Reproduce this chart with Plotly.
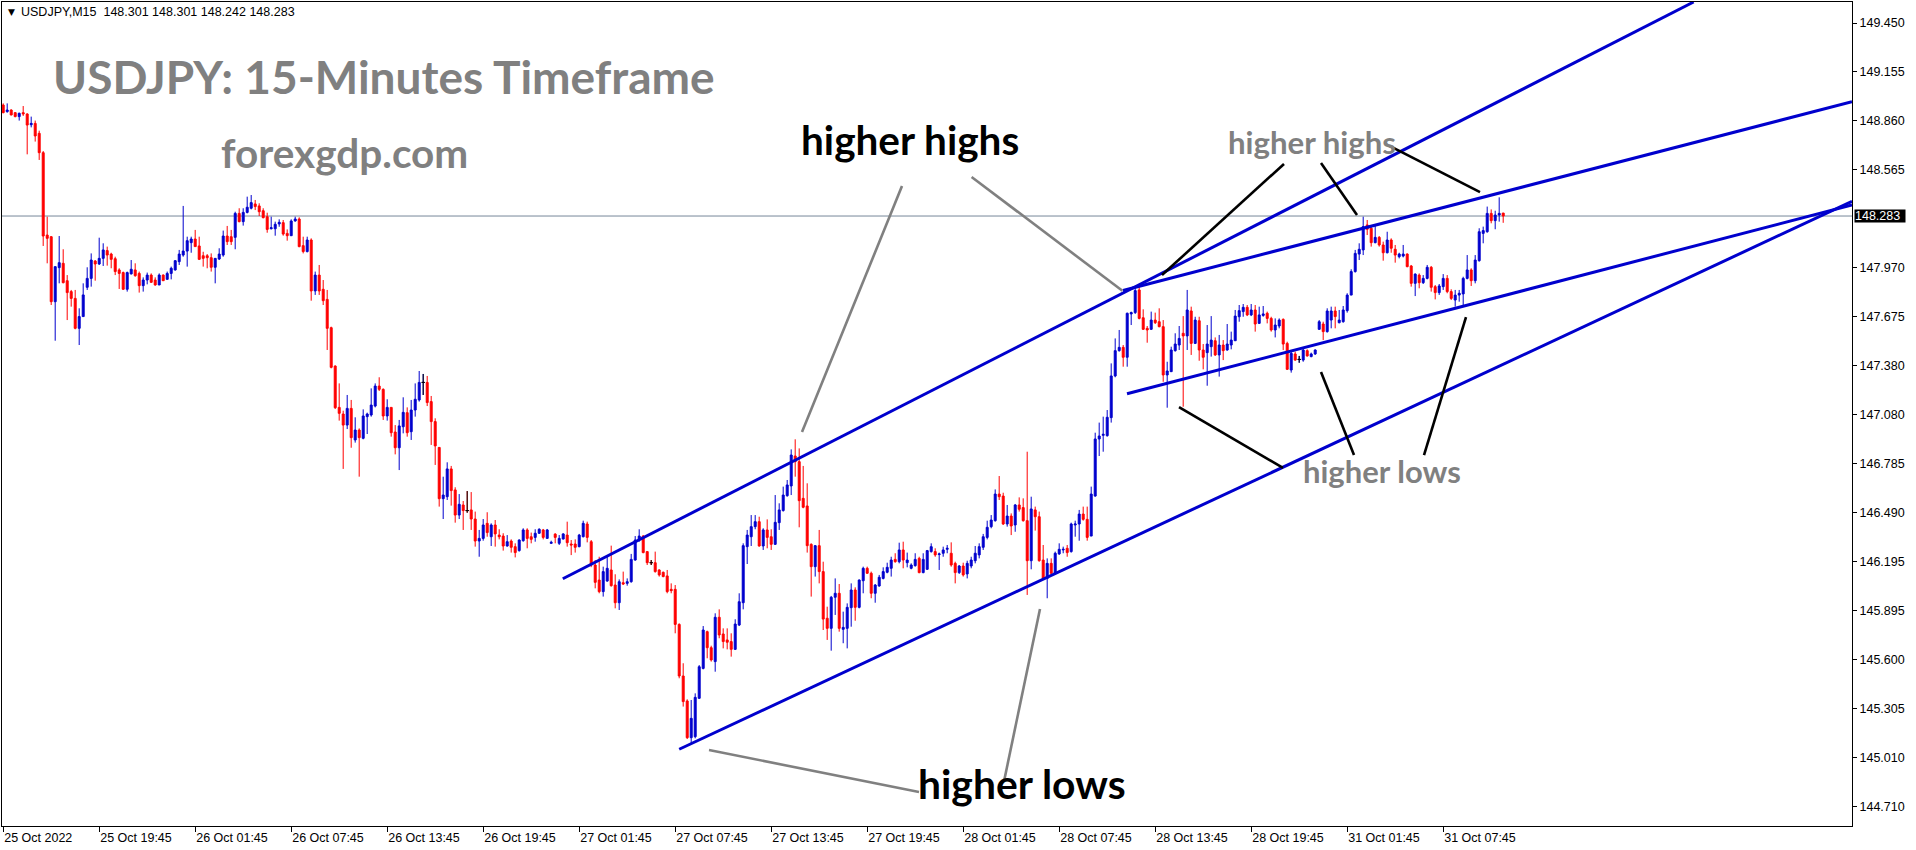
import plotly.graph_objects as go

# ---------------- data ----------------
tick_labels = ["25 Oct 2022", "25 Oct 19:45", "26 Oct 01:45", "26 Oct 07:45", "26 Oct 13:45",
               "26 Oct 19:45", "27 Oct 01:45", "27 Oct 07:45", "27 Oct 13:45", "27 Oct 19:45",
               "28 Oct 01:45", "28 Oct 07:45", "28 Oct 13:45", "28 Oct 19:45", "31 Oct 01:45",
               "31 Oct 07:45"]
tick_bars = [0, 24, 48, 72, 96, 120, 144, 168, 192, 216, 240, 264, 288, 312, 336, 360]

price_ticks = [149.450, 149.155, 148.860, 148.565, 147.970, 147.675, 147.380, 147.080,
               146.785, 146.490, 146.195, 145.895, 145.600, 145.305, 145.010, 144.710]

last_price = 148.283

opens = [
    148.954, 148.914, 148.924, 148.908, 148.884, 148.908, 148.900, 148.835, 148.843, 148.783,
    148.666, 148.168, 148.158, 147.765, 147.971, 147.997, 147.892, 147.826, 147.785, 147.604,
    147.675, 147.852, 147.906, 148.011, 147.993, 148.027, 148.074, 148.053, 148.025, 147.957,
    147.941, 147.840, 147.933, 147.957, 147.936, 147.862, 147.896, 147.926, 147.896, 147.866,
    147.926, 147.900, 147.936, 147.957, 148.007, 148.047, 148.071, 148.122, 148.144, 148.102,
    148.043, 148.043, 148.031, 147.973, 148.023, 148.047, 148.162, 148.158, 148.154, 148.299,
    148.249, 148.305, 148.330, 148.356, 148.344, 148.315, 148.279, 148.206, 148.206, 148.235,
    148.243, 148.178, 148.164, 148.253, 148.265, 148.104, 148.068, 148.138, 147.830, 147.926,
    147.840, 147.779, 147.608, 147.376, 147.126, 147.086, 147.019, 147.120, 146.929, 146.989,
    146.939, 147.070, 147.080, 147.134, 147.255, 147.235, 147.074, 147.126, 146.977, 146.882,
    147.009, 147.094, 146.979, 147.110, 147.171, 147.277, 147.277, 147.161, 147.040, 146.884,
    146.574, 146.586, 146.754, 146.627, 146.475, 146.536, 146.502, 146.506, 146.451, 146.318,
    146.334, 146.425, 146.344, 146.415, 146.354, 146.348, 146.288, 146.318, 146.284, 146.260,
    146.320, 146.385, 146.344, 146.340, 146.365, 146.385, 146.334, 146.304, 146.360, 146.304,
    146.330, 146.354, 146.300, 146.300, 146.284, 146.344, 146.421, 146.314, 146.173, 146.082,
    146.012, 146.076, 146.143, 146.052, 145.945, 146.066, 146.062, 146.072, 146.203, 146.328,
    146.348, 146.254, 146.187, 146.187, 146.143, 146.129, 146.107, 146.026, 146.026, 145.814,
    145.502, 145.351, 145.129, 145.135, 145.367, 145.548, 145.770, 145.673, 145.589, 145.857,
    145.756, 145.720, 145.710, 145.663, 145.810, 145.945, 146.284, 146.344, 146.405, 146.435,
    146.288, 146.385, 146.344, 146.298, 146.429, 146.502, 146.592, 146.651, 146.832, 146.798,
    146.576, 146.530, 146.298, 146.163, 146.290, 146.133, 145.851, 145.790, 145.978, 146.002,
    145.784, 145.790, 145.915, 146.022, 145.917, 146.078, 146.153, 146.123, 146.002, 146.046,
    146.092, 146.129, 146.153, 146.207, 146.193, 146.264, 146.187, 146.153, 146.169, 146.213,
    146.127, 146.147, 146.254, 146.254, 146.236, 146.244, 146.268, 146.244, 146.183, 146.127,
    146.167, 146.119, 146.167, 146.199, 146.234, 146.280, 146.340, 146.405, 146.441, 146.602,
    146.590, 146.421, 146.469, 146.415, 146.536, 146.520, 146.441, 146.199, 146.506, 146.465,
    146.203, 146.092, 146.183, 146.123, 146.240, 146.264, 146.274, 146.254, 146.415, 146.421,
    146.481, 146.449, 146.348, 146.590, 146.935, 146.957, 146.955, 147.064, 147.316, 147.469,
    147.489, 147.429, 147.691, 147.699, 147.836, 147.668, 147.604, 147.598, 147.654, 147.644,
    147.614, 147.322, 147.342, 147.469, 147.503, 147.574, 147.558, 147.709, 147.513, 147.650,
    147.473, 147.457, 147.493, 147.529, 147.443, 147.503, 147.473, 147.503, 147.529, 147.674,
    147.705, 147.731, 147.685, 147.715, 147.634, 147.682, 147.695, 147.664, 147.594, 147.618,
    147.658, 147.513, 147.352, 147.449, 147.416, 147.412, 147.469, 147.433, 147.449, 147.598,
    147.630, 147.584, 147.654, 147.709, 147.638, 147.644, 147.711, 147.805, 147.947, 148.053,
    148.078, 148.229, 148.209, 148.122, 148.154, 148.108, 148.061, 148.138, 148.082, 148.037,
    148.041, 148.053, 147.981, 147.876, 147.926, 147.880, 147.906, 147.973, 147.856, 147.820,
    147.856, 147.906, 147.826, 147.775, 147.805, 147.812, 147.906, 147.957, 147.892, 148.013,
    148.178, 148.188, 148.299, 148.255, 148.289, 148.301]

highs = [
    148.964, 148.964, 148.928, 148.912, 148.908, 148.948, 148.904, 148.884, 148.860, 148.799,
    148.676, 148.279, 148.162, 147.977, 148.162, 148.082, 147.926, 147.836, 147.836, 147.725,
    147.876, 147.973, 148.057, 148.017, 148.152, 148.118, 148.098, 148.061, 148.037, 147.967,
    147.947, 147.947, 148.017, 147.997, 147.947, 147.912, 147.941, 147.936, 147.912, 147.936,
    147.930, 147.947, 147.977, 148.017, 148.078, 148.344, 148.158, 148.158, 148.199, 148.158,
    148.067, 148.053, 148.057, 148.027, 148.088, 148.195, 148.223, 148.199, 148.309, 148.330,
    148.330, 148.400, 148.410, 148.380, 148.360, 148.330, 148.303, 148.279, 148.249, 148.263,
    148.259, 148.202, 148.263, 148.279, 148.275, 148.158, 148.158, 148.148, 147.947, 147.987,
    147.896, 147.836, 147.614, 147.380, 147.271, 147.106, 147.201, 147.171, 147.066, 146.999,
    147.114, 147.094, 147.241, 147.271, 147.308, 147.241, 147.175, 147.126, 147.019, 147.050,
    147.187, 147.126, 147.171, 147.271, 147.346, 147.328, 147.316, 147.195, 147.060, 146.884,
    146.707, 146.794, 146.772, 146.643, 146.602, 146.560, 146.620, 146.614, 146.496, 146.385,
    146.451, 146.492, 146.425, 146.445, 146.389, 146.365, 146.354, 146.328, 146.304, 146.328,
    146.395, 146.395, 146.369, 146.389, 146.395, 146.391, 146.391, 146.320, 146.365, 146.354,
    146.365, 146.435, 146.324, 146.328, 146.361, 146.441, 146.435, 146.324, 146.203, 146.223,
    146.163, 146.223, 146.290, 146.117, 146.086, 146.133, 146.092, 146.240, 146.348, 146.389,
    146.354, 146.254, 146.203, 146.254, 146.147, 146.133, 146.143, 146.062, 146.052, 145.820,
    145.579, 145.361, 145.357, 145.397, 145.568, 145.804, 145.776, 145.685, 145.881, 145.905,
    145.790, 145.790, 145.760, 145.845, 146.002, 146.304, 146.385, 146.475, 146.475, 146.465,
    146.395, 146.449, 146.389, 146.596, 146.546, 146.647, 146.687, 146.872, 146.933, 146.878,
    146.772, 146.667, 146.304, 146.294, 146.385, 146.193, 145.921, 145.986, 146.092, 146.058,
    145.891, 145.941, 146.062, 146.038, 146.086, 146.163, 146.163, 146.133, 146.058, 146.113,
    146.159, 146.187, 146.223, 146.244, 146.308, 146.314, 146.248, 146.183, 146.244, 146.223,
    146.244, 146.264, 146.304, 146.274, 146.248, 146.284, 146.294, 146.310, 146.193, 146.173,
    146.187, 146.199, 146.223, 146.288, 146.304, 146.361, 146.441, 146.475, 146.630, 146.711,
    146.610, 146.536, 146.485, 146.542, 146.582, 146.576, 146.858, 146.586, 146.526, 146.496,
    146.294, 146.213, 146.213, 146.254, 146.304, 146.284, 146.294, 146.429, 146.441, 146.506,
    146.526, 146.526, 146.647, 146.973, 147.034, 147.070, 147.110, 147.392, 147.543, 147.594,
    147.503, 147.699, 147.705, 147.856, 147.860, 147.719, 147.618, 147.705, 147.699, 147.725,
    147.654, 147.402, 147.493, 147.574, 147.618, 147.678, 147.836, 147.735, 147.674, 147.674,
    147.509, 147.624, 147.678, 147.549, 147.564, 147.533, 147.630, 147.584, 147.715, 147.745,
    147.751, 147.745, 147.751, 147.745, 147.735, 147.739, 147.705, 147.674, 147.664, 147.664,
    147.664, 147.523, 147.473, 147.463, 147.437, 147.489, 147.477, 147.457, 147.477, 147.654,
    147.644, 147.725, 147.735, 147.735, 147.715, 147.739, 147.816, 147.961, 148.078, 148.118,
    148.279, 148.259, 148.229, 148.229, 148.162, 148.128, 148.188, 148.148, 148.108, 148.061,
    148.108, 148.057, 147.987, 147.936, 147.936, 147.926, 147.987, 147.981, 147.866, 147.872,
    147.932, 147.926, 147.840, 147.836, 147.836, 147.916, 148.047, 147.967, 148.047, 148.209,
    148.219, 148.340, 148.323, 148.315, 148.396, 148.301]

lows = [
    148.904, 148.908, 148.892, 148.880, 148.860, 148.888, 148.656, 148.819, 148.733, 148.622,
    148.102, 147.997, 147.745, 147.529, 147.876, 147.876, 147.654, 147.735, 147.598, 147.503,
    147.675, 147.836, 147.856, 147.892, 147.987, 147.981, 147.983, 147.967, 147.926, 147.842,
    147.836, 147.826, 147.930, 147.916, 147.820, 147.826, 147.870, 147.880, 147.862, 147.866,
    147.890, 147.900, 147.900, 147.953, 147.987, 148.037, 147.977, 148.061, 148.098, 148.017,
    147.977, 147.967, 147.947, 147.876, 148.017, 148.037, 148.108, 148.108, 148.082, 148.245,
    148.225, 148.299, 148.323, 148.319, 148.283, 148.269, 148.182, 148.202, 148.164, 148.218,
    148.164, 148.134, 148.164, 148.249, 148.094, 148.057, 148.063, 147.771, 147.806, 147.806,
    147.745, 147.473, 147.362, 147.116, 147.046, 146.754, 146.995, 146.882, 146.913, 146.707,
    146.933, 146.965, 147.070, 147.126, 147.225, 147.050, 147.046, 146.949, 146.842, 146.747,
    146.969, 146.949, 146.929, 147.070, 147.161, 147.201, 147.134, 146.899, 146.778, 146.526,
    146.451, 146.566, 146.532, 146.429, 146.451, 146.385, 146.489, 146.385, 146.284, 146.223,
    146.320, 146.344, 146.288, 146.284, 146.328, 146.260, 146.284, 146.248, 146.219, 146.254,
    146.314, 146.274, 146.304, 146.314, 146.361, 146.328, 146.334, 146.300, 146.304, 146.294,
    146.328, 146.284, 146.233, 146.248, 146.280, 146.340, 146.310, 146.160, 146.032, 146.002,
    145.982, 146.072, 146.042, 145.911, 145.901, 146.052, 146.048, 146.066, 146.199, 146.314,
    146.244, 146.173, 146.173, 146.127, 146.103, 146.099, 146.002, 146.002, 145.760, 145.488,
    145.317, 145.121, 145.095, 145.125, 145.363, 145.542, 145.609, 145.589, 145.528, 145.730,
    145.669, 145.663, 145.619, 145.659, 145.804, 145.905, 146.179, 146.288, 146.389, 146.284,
    146.264, 146.274, 146.264, 146.294, 146.385, 146.496, 146.586, 146.596, 146.707, 146.401,
    146.516, 146.248, 145.982, 146.103, 146.062, 145.780, 145.720, 145.655, 145.871, 145.770,
    145.700, 145.669, 145.800, 145.836, 145.911, 146.002, 146.119, 145.972, 145.945, 146.042,
    146.086, 146.123, 146.103, 146.187, 146.183, 146.153, 146.159, 146.147, 146.163, 146.123,
    146.123, 146.143, 146.248, 146.223, 146.143, 146.223, 146.244, 146.163, 146.062, 146.119,
    146.103, 146.092, 146.153, 146.183, 146.213, 146.264, 146.328, 146.395, 146.435, 146.566,
    146.415, 146.405, 146.354, 146.374, 146.496, 146.435, 145.992, 146.147, 146.381, 146.193,
    146.082, 145.972, 146.119, 146.113, 146.234, 146.244, 146.223, 146.248, 146.344, 146.320,
    146.441, 146.320, 146.348, 146.586, 146.832, 146.858, 146.949, 147.034, 147.308, 147.463,
    147.372, 147.372, 147.624, 147.691, 147.658, 147.594, 147.517, 147.594, 147.630, 147.610,
    147.281, 147.124, 147.342, 147.463, 147.473, 147.130, 147.473, 147.443, 147.509, 147.408,
    147.356, 147.257, 147.433, 147.437, 147.312, 147.412, 147.469, 147.477, 147.529, 147.644,
    147.674, 147.678, 147.678, 147.584, 147.630, 147.674, 147.634, 147.584, 147.549, 147.604,
    147.473, 147.352, 147.336, 147.408, 147.396, 147.402, 147.433, 147.429, 147.443, 147.594,
    147.533, 147.578, 147.604, 147.604, 147.634, 147.638, 147.699, 147.805, 147.941, 148.017,
    148.047, 148.168, 148.098, 148.118, 148.098, 148.013, 148.057, 148.061, 148.001, 148.027,
    148.033, 147.973, 147.856, 147.799, 147.846, 147.872, 147.900, 147.826, 147.779, 147.806,
    147.836, 147.816, 147.775, 147.735, 147.765, 147.739, 147.900, 147.860, 147.876, 148.007,
    148.118, 148.182, 148.239, 148.203, 148.249, 148.242]

closes = [
    148.908, 148.924, 148.894, 148.884, 148.904, 148.900, 148.833, 148.843, 148.767, 148.666,
    148.162, 148.148, 147.765, 147.977, 148.001, 147.880, 147.820, 147.785, 147.604, 147.675,
    147.806, 147.906, 148.017, 147.993, 148.027, 148.078, 148.047, 148.021, 147.947, 147.936,
    147.840, 147.941, 147.961, 147.922, 147.862, 147.896, 147.926, 147.882, 147.866, 147.926,
    147.892, 147.936, 147.967, 148.013, 148.053, 148.071, 148.134, 148.144, 148.098, 148.021,
    148.027, 148.031, 147.973, 148.027, 148.053, 148.162, 148.128, 148.128, 148.299, 148.249,
    148.305, 148.336, 148.364, 148.340, 148.309, 148.273, 148.202, 148.212, 148.233, 148.245,
    148.174, 148.164, 148.253, 148.265, 148.098, 148.068, 148.138, 147.830, 147.926, 147.830,
    147.771, 147.604, 147.368, 147.124, 147.090, 147.019, 147.120, 146.943, 146.989, 146.943,
    147.074, 147.086, 147.140, 147.255, 147.235, 147.074, 147.126, 146.973, 146.882, 147.014,
    147.096, 146.973, 147.110, 147.175, 147.277, 147.277, 147.155, 147.040, 146.893, 146.574,
    146.596, 146.754, 146.623, 146.475, 146.540, 146.502, 146.502, 146.451, 146.318, 146.334,
    146.415, 146.369, 146.415, 146.361, 146.344, 146.288, 146.314, 146.280, 146.248, 146.324,
    146.385, 146.334, 146.328, 146.365, 146.389, 146.340, 146.385, 146.310, 146.340, 146.334,
    146.361, 146.308, 146.294, 146.280, 146.354, 146.425, 146.340, 146.173, 146.068, 146.012,
    146.133, 146.153, 146.048, 145.945, 146.072, 146.058, 146.072, 146.207, 146.324, 146.348,
    146.248, 146.187, 146.187, 146.133, 146.113, 146.103, 146.012, 146.018, 145.814, 145.502,
    145.347, 145.129, 145.246, 145.373, 145.558, 145.780, 145.673, 145.599, 145.857, 145.750,
    145.710, 145.706, 145.663, 145.816, 145.951, 146.290, 146.354, 146.405, 146.435, 146.288,
    146.385, 146.340, 146.298, 146.431, 146.506, 146.596, 146.657, 146.838, 146.798, 146.562,
    146.522, 146.290, 146.163, 146.290, 146.133, 145.846, 145.790, 145.978, 146.002, 145.790,
    145.796, 145.917, 146.022, 145.917, 146.082, 146.153, 146.123, 146.002, 146.052, 146.099,
    146.133, 146.159, 146.203, 146.193, 146.264, 146.203, 146.203, 146.173, 146.207, 146.127,
    146.207, 146.260, 146.284, 146.234, 146.240, 146.264, 146.274, 146.173, 146.127, 146.167,
    146.113, 146.183, 146.203, 146.244, 146.284, 146.344, 146.401, 146.445, 146.602, 146.586,
    146.421, 146.469, 146.409, 146.536, 146.510, 146.441, 146.199, 146.512, 146.465, 146.199,
    146.092, 146.183, 146.123, 146.244, 146.268, 146.268, 146.248, 146.421, 146.421, 146.481,
    146.449, 146.340, 146.602, 146.935, 146.953, 146.963, 147.066, 147.316, 147.469, 147.489,
    147.429, 147.695, 147.699, 147.832, 147.664, 147.598, 147.594, 147.654, 147.638, 147.614,
    147.322, 147.346, 147.473, 147.509, 147.543, 147.558, 147.715, 147.513, 147.654, 147.473,
    147.429, 147.509, 147.533, 147.443, 147.503, 147.469, 147.509, 147.533, 147.678, 147.711,
    147.731, 147.685, 147.715, 147.630, 147.685, 147.691, 147.664, 147.594, 147.624, 147.654,
    147.509, 147.356, 147.453, 147.412, 147.416, 147.473, 147.437, 147.449, 147.473, 147.644,
    147.584, 147.709, 147.709, 147.675, 147.654, 147.715, 147.805, 147.947, 148.057, 148.082,
    148.219, 148.203, 148.122, 148.154, 148.108, 148.061, 148.138, 148.088, 148.047, 148.053,
    148.053, 147.977, 147.876, 147.932, 147.880, 147.906, 147.973, 147.852, 147.820, 147.860,
    147.906, 147.826, 147.785, 147.805, 147.816, 147.906, 147.957, 147.892, 148.017, 148.188,
    148.195, 148.299, 148.255, 148.289, 148.299, 148.283]

# chart objects drawn on the chart (bar index, price)
trend_lines = [
    [(139.9, 146.090), (422.6, 149.577)],
    [(279.95, 147.833), (462.2, 148.974)],
    [(280.95, 147.208), (462.2, 148.350)],
    [(169.0, 145.059), (462.2, 148.372)],
]
gray_pointers = [
    [(224.7, 148.464), (199.7, 146.977)],
    [(242.1, 148.519), (279.8, 147.831)],
    [(176.45, 145.054), (228.95, 144.801)],
    [(259.2, 145.907), (250.3, 144.876)],
]
black_pointers = [
    [(320.2, 148.598), (289.7, 147.926)],
    [(329.45, 148.604), (338.45, 148.289)],
    [(346.7, 148.706), (369.2, 148.428)],
    [(293.95, 147.128), (319.95, 146.760)],
    [(329.45, 147.340), (337.7, 146.838)],
    [(365.7, 147.672), (355.2, 146.838)],
]

BULL = "#0000CD"
BEAR = "#FF0000"

n = min(len(opens), len(highs), len(lows), len(closes))
print("bars:", len(opens), len(highs), len(lows), len(closes))
bars = list(range(n))

fig = go.Figure()

fig.add_trace(go.Candlestick(
    x=bars, open=opens[:n], high=highs[:n], low=lows[:n], close=closes[:n],
    increasing=dict(line=dict(color=BULL, width=1), fillcolor=BULL),
    decreasing=dict(line=dict(color=BEAR, width=1), fillcolor=BEAR),
    whiskerwidth=0, hoverinfo="skip", showlegend=False))

# doji crosses in black
dx, dy = [], []
for i in bars:
    if opens[i] == closes[i]:
        dx += [i, i, None, i - 0.45, i + 0.45, None]
        dy += [lows[i], highs[i], None, opens[i], opens[i], None]
fig.add_trace(go.Scatter(x=dx, y=dy, mode="lines", line=dict(color="black", width=1),
                         hoverinfo="skip", showlegend=False))


def seg_trace(segs, color, width):
    xs, ys = [], []
    for (x0, y0), (x1, y1) in segs:
        xs += [x0, x1, None]
        ys += [y0, y1, None]
    return go.Scatter(x=xs, y=ys, mode="lines", line=dict(color=color, width=width),
                      hoverinfo="skip", showlegend=False)


fig.add_trace(seg_trace(trend_lines, BULL, 3))
fig.add_trace(seg_trace(gray_pointers, "#808080", 2.6))
fig.add_trace(seg_trace(black_pointers, "black", 2.6))

GRAY = "#808080"
annotations = [
    dict(x=11.95, y=149.124, text="USDJPY: 15-Minutes Timeframe",
         font=dict(family="Lato", size=46, color=GRAY, weight="bold")),
    dict(x=53.9, y=148.670, text="forexgdp.com",
         font=dict(family="Lato", size=40.5, color=GRAY, weight="bold")),
    dict(x=198.95, y=148.743, text="higher highs",
         font=dict(family="Lato", size=40.5, color="black", weight="bold")),
    dict(x=228.2, y=144.855, text="higher lows",
         font=dict(family="Lato", size=40.8, color="black", weight="bold")),
    dict(x=305.7, y=148.729, text="higher highs",
         font=dict(family="Lato", size=31.2, color=GRAY, weight="bold")),
    dict(x=324.4, y=146.739, text="higher lows",
         font=dict(family="Lato", size=31, color=GRAY, weight="bold")),
]
for a in annotations:
    a.update(xref="x", yref="y", xanchor="left", yanchor="middle", showarrow=False)

# header
annotations.append(dict(xref="paper", yref="paper", x=(6 - 2) / 1850, y=(826 - 12) / 824,
                        text="\u25BC", showarrow=False, xanchor="left", yanchor="middle",
                        font=dict(family="DejaVu Sans", size=9, color="black")))
annotations.append(dict(xref="paper", yref="paper", x=(19 - 2) / 1850, y=(826 - 12) / 824,
                        text="USDJPY,M15\u00a0\u00a0148.301 148.301 148.242 148.283",
                        showarrow=False, xanchor="left", yanchor="middle",
                        font=dict(family="Liberation Sans", size=12.5, color="black")))
# last price box
annotations.append(dict(xref="paper", yref="y", x=1.0, xshift=2, y=last_price,
                        text=f"{last_price:.3f}", showarrow=False, xanchor="left",
                        yanchor="middle", bgcolor="black", borderpad=0, width=50, height=12,
                        align="left",
                        font=dict(family="Liberation Sans", size=12.5, color="white")))

fig.update_layout(
    width=1916, height=850, autosize=False,
    margin=dict(l=2, r=64, t=2, b=24, pad=0),
    paper_bgcolor="white", plot_bgcolor="white",
    showlegend=False,
    annotations=annotations,
    shapes=[dict(type="line", xref="paper", x0=0, x1=1, yref="y", y0=last_price, y1=last_price,
                 line=dict(color="#778899", width=1), layer="below")],
    xaxis=dict(type="linear", range=[-0.3, 462.2], tickmode="array", tickvals=tick_bars,
               ticktext=tick_labels, ticks="outside", ticklen=5, tickwidth=1, tickcolor="black",
               ticklabelposition="outside right", showline=True, linecolor="black", linewidth=1,
               mirror=True, showgrid=False, zeroline=False, rangeslider=dict(visible=False),
               tickfont=dict(family="Liberation Sans", size=12.5, color="black"),
               automargin=False, fixedrange=True),
    yaxis=dict(side="right", range=[144.595, 149.577], tickmode="array", tickvals=price_ticks,
               ticktext=[f"{v:.3f}" for v in price_ticks], ticks="outside", ticklen=4,
               tickwidth=1, tickcolor="black", showline=True, linecolor="black", linewidth=1,
               mirror=True, showgrid=False, zeroline=False,
               tickfont=dict(family="Liberation Sans", size=12.5, color="black"),
               automargin=False, fixedrange=True),
)

fig.write_html("out.html", config={"displayModeBar": False},
               post_script="document.body.style.margin='0px';"
                           "document.body.style.overflow='hidden';")
